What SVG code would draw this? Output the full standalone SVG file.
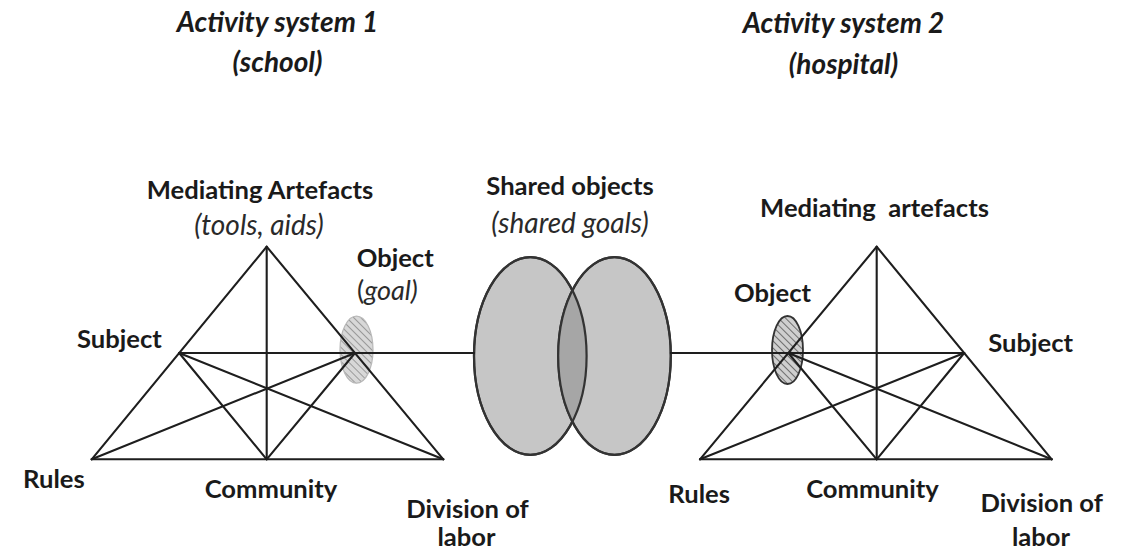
<svg xmlns="http://www.w3.org/2000/svg" width="1130" height="551" viewBox="0 0 1130 551">
<style>
  .t { font-family: Lato, "Liberation Sans", sans-serif; fill: #1a1a1a; }
  .b { font-weight: bold; font-size: 25.6px; }
  .title { font-weight: bold; font-style: italic; font-size: 28px; }
  .it { font-style: italic; font-size: 28px; fill: #2a2a2a; }
  .goal { font-size: 27px; fill: #2a2a2a; }
  .ln { stroke: #1e1e1e; stroke-width: 2.1; fill: none; stroke-linecap: round; }
  .big { fill: #c6c6c6; stroke: #333; stroke-width: 2.2; }
</style>
<defs>
  <pattern id="hatchL" width="5" height="5" patternUnits="userSpaceOnUse" patternTransform="rotate(-45)">
    <rect width="5" height="5" fill="#d8d8d8"/>
    <line x1="0" y1="0" x2="0" y2="5" stroke="#8a8a8a" stroke-width="1.6"/>
  </pattern>
  <pattern id="hatchR" width="5" height="5" patternUnits="userSpaceOnUse" patternTransform="rotate(-45)">
    <rect width="5" height="5" fill="#cfcfcf"/>
    <line x1="0" y1="0" x2="0" y2="5" stroke="#555" stroke-width="1.6"/>
  </pattern>
  <clipPath id="clipLeftBig">
    <ellipse cx="530.3" cy="356" rx="56.3" ry="98.8"/>
  </clipPath>
</defs>
<rect width="1130" height="551" fill="#ffffff"/>

<g id="titles">
  <text class="t title" x="277.5" y="32" text-anchor="middle">Activity system 1</text>
  <text class="t title" x="277.5" y="72" text-anchor="middle">(school)</text>
  <text class="t title" x="843.5" y="33" text-anchor="middle">Activity system 2</text>
  <text class="t title" x="843.5" y="74" text-anchor="middle">(hospital)</text>
</g>

<g id="shared-objects">
  <ellipse class="big" cx="530.3" cy="356" rx="56.3" ry="98.8"/>
  <ellipse class="big" cx="614.5" cy="356" rx="56.3" ry="98.8"/>
  <ellipse cx="614.5" cy="356" rx="56.3" ry="98.8" fill="#a6a6a6" clip-path="url(#clipLeftBig)"/>
  <ellipse cx="530.3" cy="356" rx="56.3" ry="98.8" fill="none" stroke="#333" stroke-width="2.2"/>
  <ellipse cx="614.5" cy="356" rx="56.3" ry="98.8" fill="none" stroke="#333" stroke-width="2.2"/>
  <text class="t b" x="570" y="195" text-anchor="middle">Shared objects</text>
  <text class="t it" x="570" y="232.5" text-anchor="middle">(shared goals)</text>
</g>

<g id="object-1">
  <ellipse cx="356.5" cy="349.7" rx="16.5" ry="33.5" fill="url(#hatchL)" stroke="#b8b8b8" stroke-width="1.2"/>
  <text class="t b" x="356.7" y="267">Object</text>
  <text class="t goal" x="357" y="300">(<tspan font-style="italic">goal)</tspan></text>
</g>

<g id="object-2">
  <ellipse cx="787.5" cy="350" rx="15.5" ry="34" fill="url(#hatchR)" stroke="#333" stroke-width="1.8"/>
  <text class="t b" x="734" y="301.5">Object</text>
</g>

<g id="connectors">
  <line class="ln" x1="355" y1="353" x2="474" y2="353"/>
  <line class="ln" x1="670.8" y1="353" x2="788.3" y2="353"/>
</g>

<g id="triangle-1">
  <line class="ln" x1="266.7" y1="246.7" x2="91.7" y2="459.3"/>
  <line class="ln" x1="266.7" y1="246.7" x2="443.3" y2="459.3"/>
  <line class="ln" x1="91.7" y1="459.3" x2="443.3" y2="459.3"/>
  <line class="ln" x1="266.7" y1="246.7" x2="266.7" y2="459.3"/>
  <line class="ln" x1="179.2" y1="353" x2="355" y2="353"/>
  <line class="ln" x1="179.2" y1="353" x2="266.7" y2="459.3"/>
  <line class="ln" x1="355" y1="353" x2="266.7" y2="459.3"/>
  <line class="ln" x1="179.2" y1="353" x2="443.3" y2="459.3"/>
  <line class="ln" x1="355" y1="353" x2="91.7" y2="459.3"/>
</g>

<g id="triangle-2">
  <line class="ln" x1="876.7" y1="246.7" x2="700" y2="459.3"/>
  <line class="ln" x1="876.7" y1="246.7" x2="1051.7" y2="459.3"/>
  <line class="ln" x1="700" y1="459.3" x2="1051.7" y2="459.3"/>
  <line class="ln" x1="876.7" y1="246.7" x2="876.7" y2="459.3"/>
  <line class="ln" x1="788.3" y1="353" x2="964.2" y2="353"/>
  <line class="ln" x1="788.3" y1="353" x2="876.7" y2="459.3"/>
  <line class="ln" x1="964.2" y1="353" x2="876.7" y2="459.3"/>
  <line class="ln" x1="788.3" y1="353" x2="1051.7" y2="459.3"/>
  <line class="ln" x1="964.2" y1="353" x2="700" y2="459.3"/>
</g>

<g id="labels-1">
  <text class="t b" x="260" y="199" text-anchor="middle">Mediating Artefacts</text>
  <text class="t it" x="259" y="235" text-anchor="middle">(tools, aids)</text>
  <text class="t b" x="77" y="348">Subject</text>
  <text class="t b" x="23" y="488">Rules</text>
  <text class="t b" x="271" y="498" text-anchor="middle">Community</text>
  <text class="t b" x="467.5" y="518" text-anchor="middle">Division of</text>
  <text class="t b" x="466.5" y="546" text-anchor="middle">labor</text>
</g>

<g id="labels-2">
  <text class="t b" x="874.5" y="216.5" text-anchor="middle" xml:space="preserve">Mediating  artefacts</text>
  <text class="t b" x="988.3" y="351.7">Subject</text>
  <text class="t b" x="668.3" y="503">Rules</text>
  <text class="t b" x="872.5" y="498" text-anchor="middle">Community</text>
  <text class="t b" x="1041.7" y="511.7" text-anchor="middle">Division of</text>
  <text class="t b" x="1041" y="546" text-anchor="middle">labor</text>
</g>
</svg>
